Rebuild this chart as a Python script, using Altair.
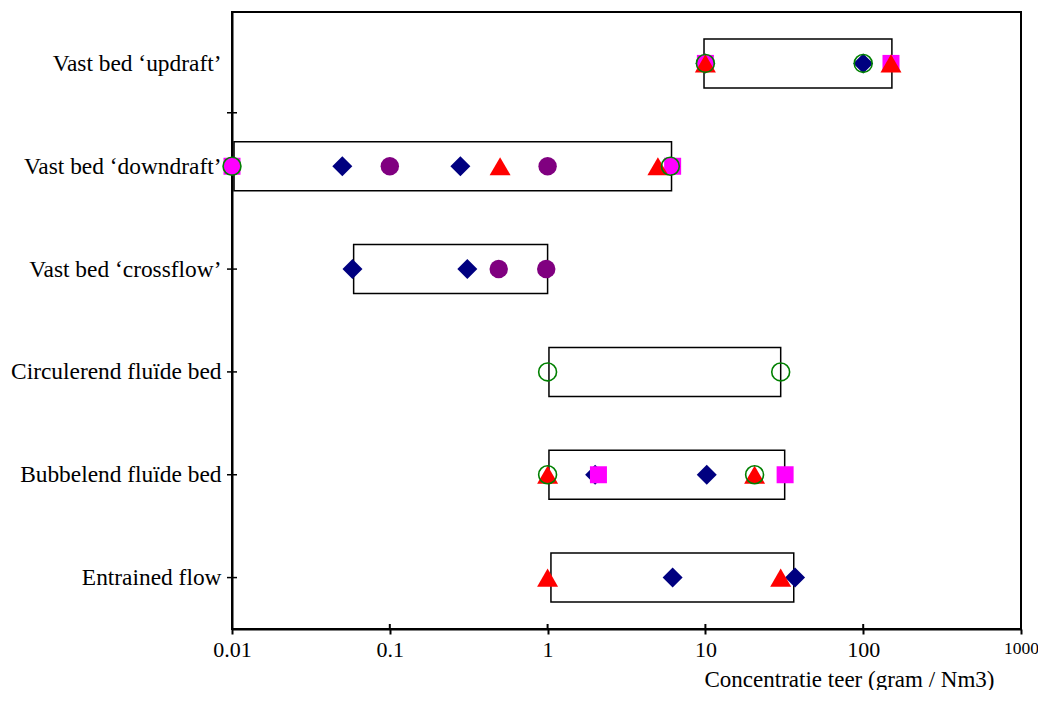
import json
import altair as alt
import pandas as pd

# ---- data ----
categories = ["Vast bed ‘updraft’", "Vast bed ‘downdraft’", "Vast bed ‘crossflow’",
              "Circulerend fluïde bed", "Bubbelend fluïde bed", "Entrained flow"]
row_pos = [6, 5, 4, 3, 2, 1]
box_low = [9.8, 0.0103, 0.059, 1.02, 1.02, 1.05]
box_high = [152, 6.1, 1.0, 30, 31.8, 36.3]

navy_diamond = {
    "Vast bed ‘updraft’": [10, 100],
    "Vast bed ‘downdraft’": [0.05, 0.28],
    "Vast bed ‘crossflow’": [0.058, 0.31],
    "Bubbelend fluïde bed": [2.0, 10.2],
    "Entrained flow": [6.2, 37],
}
purple_circle = {
    "Vast bed ‘downdraft’": [0.1, 1.0],
    "Vast bed ‘crossflow’": [0.49, 0.98],
}
red_triangle = {
    "Vast bed ‘updraft’": [10, 150],
    "Vast bed ‘downdraft’": [0.5, 5.0],
    "Bubbelend fluïde bed": [1.0, 20.5],
    "Entrained flow": [1.0, 30],
}
green_open_circle = {
    "Vast bed ‘updraft’": [10, 100],
    "Vast bed ‘downdraft’": [0.01, 6.0],
    "Circulerend fluïde bed": [1.0, 30],
    "Bubbelend fluïde bed": [1.0, 20.5],
}
magenta_square = {
    "Vast bed ‘updraft’": [10, 150],
    "Vast bed ‘downdraft’": [0.01, 6.2],
    "Bubbelend fluïde bed": [2.1, 32],
}

x_ticks = [0.01, 0.1, 1, 10, 100, 1000]
y_tick_marks = [5.52, 4, 3, 2, 1]
x_title = "Concentratie teer (gram / Nm3)"

# ---- build tables ----
pos_of = dict(zip(categories, row_pos))
boxes = pd.DataFrame({"category": categories, "pos": row_pos,
                      "low": box_low, "high": box_high})


def series_df(d):
    rows = []
    for cat, vals in d.items():
        for v in vals:
            rows.append({"category": cat, "pos": pos_of[cat], "value": v})
    return pd.DataFrame(rows)


label_arr = [""] * 7
for c, p in zip(categories, row_pos):
    label_arr[p] = c
label_expr = json.dumps(label_arr) + "[datum.value]"

FONT = "Liberation Serif"
PLOT_W, PLOT_H = 789, 617
BOX_HALF = 0.238

xscale = alt.Scale(type="log", domain=[0.01, 1000], nice=False)
yscale = alt.Scale(domain=[0.5, 6.5], nice=False, zero=False)

xaxis = alt.Axis(values=x_ticks, format="~g", title=x_title, grid=False,
                 labelFont=FONT,
                 labelFontSize=alt.condition("datum.value == 1000", alt.value(17.5), alt.value(22)),
                 labelColor="black", labelPadding=5, labelFlush=False,
                 tickSize=5, tickWidth=2, tickColor="black",
                 domainColor="black", domainWidth=2,
                 titleFont=FONT, titleFontSize=23, titleFontWeight="normal",
                 titleColor="black", titleX=617, titleY=57,
                 titleAlign="center", titleBaseline="alphabetic")
yaxis = alt.Axis(values=row_pos, labelExpr=label_expr, title=None, grid=False,
                 ticks=False, tickSize=0, labelFont=FONT, labelFontSize=23.4,
                 labelColor="black", labelPadding=11, labelLimit=400,
                 domainColor="black", domainWidth=2)

box_layer = alt.Chart(boxes).transform_calculate(
    y_lo="datum.pos - %f" % BOX_HALF, y_hi="datum.pos + %f" % BOX_HALF
).mark_rect(fill="white", stroke="black", strokeWidth=1.5).encode(
    x=alt.X("low:Q", scale=xscale, axis=xaxis),
    x2="high:Q",
    y=alt.Y("y_lo:Q", scale=yscale, axis=yaxis),
    y2="y_hi:Q",
)


def point_layer(d, shape, size, fill=None, stroke=None, sw=0):
    kw = dict(shape=shape, size=size, opacity=1)
    if fill:
        kw.update(filled=True, fill=fill, fillOpacity=1)
    else:
        kw.update(filled=False, fill="transparent")
    if stroke:
        kw.update(stroke=stroke, strokeWidth=sw, strokeOpacity=1)
    else:
        kw.update(strokeWidth=0)
    return alt.Chart(series_df(d)).mark_point(**kw).encode(
        x=alt.X("value:Q", scale=xscale, axis=xaxis),
        y=alt.Y("pos:Q", scale=yscale, axis=yaxis),
    )


dm = point_layer(navy_diamond, "diamond", 400, fill="#000080")
sq = point_layer(magenta_square, "square", 289, fill="#FF00FF")
pc = point_layer(purple_circle, "circle", 340, fill="#800080")
tr = point_layer(red_triangle, "triangle-up", 440, fill="#FF0000")
gc = point_layer(green_open_circle, "circle", 320, stroke="#008000", sw=1.6)

ytick_layer = alt.Chart(pd.DataFrame({"pos": y_tick_marks})).mark_rule(
    color="black", strokeWidth=1.5).encode(
    y=alt.Y("pos:Q", scale=yscale, axis=yaxis),
    x=alt.value(-5), x2=alt.value(5),
)
xtick_layer = alt.Chart(pd.DataFrame({"value": x_ticks})).mark_rule(
    color="black", strokeWidth=2).encode(
    x=alt.X("value:Q", scale=xscale, axis=xaxis),
    y=alt.value(PLOT_H - 5), y2=alt.value(PLOT_H),
)

chart = alt.layer(box_layer, dm, sq, pc, tr, gc, ytick_layer, xtick_layer).properties(
    width=PLOT_W, height=PLOT_H,
    autosize=alt.AutoSizeParams(type="none"),
    padding={"left": 224, "top": 4, "right": 17, "bottom": 61},
    background="white",
).configure_view(stroke="black", strokeWidth=2)

chart.save("out.html", embed_options={"renderer": "svg", "actions": False})
